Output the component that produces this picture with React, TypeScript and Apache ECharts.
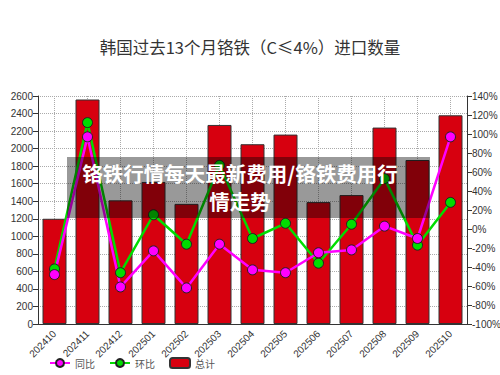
import React, { useEffect, useRef } from "react";
import * as echarts from "echarts";

const months = ["202410","202411","202412","202501","202502","202503","202504","202505","202506","202507","202508","202509","202510"];
const totals = [1200, 2560, 1410, 1620, 1370, 2270, 2050, 2160, 1390, 1470, 2240, 1870, 2380];
const yoy = [-48, 97, -61, -23, -62, -16, -43, -46, -25, -22, 3, -10, 97];
const mom = [-42, 112, -46, 15, -16, 67, -10, 6, -36, 5, 53, -17, 28];
const title = "韩国过去13个月铬铁（C≤4%）进口数量";
const watermark1 = "铬铁行情每天最新费用/铬铁费用行";
const watermark2 = "情走势";

export default function App() {
  const ref = useRef<HTMLDivElement>(null);
  useEffect(() => {
    document.body.style.margin = "0";
    if (!ref.current) return;
    const chart = echarts.init(ref.current, undefined, { renderer: "svg" });
    const font = "'Liberation Sans', Arial, sans-serif";
    const axisLabel = { color: "#333", fontSize: 10, fontFamily: font };
    const wmStyle = (text: string) => ({
      text,
      fill: "#fff",
      font: "bold 20.5px 'Noto Sans CJK SC', sans-serif",
      textAlign: "center",
      textVerticalAlign: "middle",
    });
    chart.setOption({
      animation: false,
      backgroundColor: "#fff",
      title: {
        text: title,
        left: "center",
        top: 34,
        textStyle: { fontSize: 16.5, fontWeight: "normal", color: "#333", fontFamily: "'Noto Sans CJK SC', sans-serif" },
      },
      grid: { left: 38, right: 33, top: 96, bottom: 51, outerBoundsMode: "none" },
      legend: {
        left: 44,
        bottom: 1,
        itemWidth: 20,
        itemHeight: 10,
        itemGap: 14,
        textStyle: { color: "#555", fontSize: 10, fontFamily: "'Noto Sans CJK SC', sans-serif" },
        data: ["同比", "环比", "总计"],
      },
      xAxis: {
        type: "category",
        data: months,
        axisLine: { lineStyle: { color: "#333" } },
        axisTick: { alignWithLabel: true, lineStyle: { color: "#333" } },
        axisLabel: { ...axisLabel, rotate: 45, interval: 0, margin: 8 },
        splitLine: { show: true, alignWithLabel: true, lineStyle: { color: "#aaa", type: "dotted" } },
      },
      yAxis: [
        {
          type: "value",
          min: 0,
          max: 2600,
          interval: 200,
          axisLine: { show: true, lineStyle: { color: "#333" } },
          axisTick: { show: true, lineStyle: { color: "#333" } },
          axisLabel: { ...axisLabel, margin: 5, formatter: (v: number) => String(v) },
          splitLine: { lineStyle: { color: "#aaa", type: "dotted" } },
        },
        {
          type: "value",
          min: -100,
          max: 140,
          interval: 20,
          axisLine: { show: true, lineStyle: { color: "#333" } },
          axisTick: { show: true, lineStyle: { color: "#333" } },
          axisLabel: { ...axisLabel, margin: 5, formatter: (v: number) => v + "%" },
          splitLine: { show: false },
        },
      ],
      series: [
        {
          name: "总计",
          type: "bar",
          data: totals,
          barWidth: 24,
          itemStyle: { color: "#d7000f", borderColor: "#333", borderWidth: 1 },
        },
        {
          name: "环比",
          type: "line",
          yAxisIndex: 1,
          data: mom,
          symbol: "circle",
          symbolSize: 10,
          lineStyle: { color: "#00dd00", width: 2.5 },
          itemStyle: { color: "#00dd00", borderColor: "#222", borderWidth: 1 },
        },
        {
          name: "同比",
          type: "line",
          yAxisIndex: 1,
          data: yoy,
          symbol: "circle",
          symbolSize: 10,
          lineStyle: { color: "#ff00ff", width: 2.5 },
          itemStyle: { color: "#ff00ff", borderColor: "#222", borderWidth: 1 },
        },
      ],
      graphic: [
        {
          type: "rect",
          shape: { x: 67, y: 157, width: 363, height: 61 },
          style: { fill: "rgba(0,0,0,0.4)" },
          z: 100,
        },
        { type: "text", x: 240, y: 173, style: wmStyle(watermark1), z: 101 },
        { type: "text", x: 240, y: 200.5, style: wmStyle(watermark2), z: 101 },
      ],
    });
    return () => chart.dispose();
  }, []);
  return <div ref={ref} style={{ width: 500, height: 375 }} />;
}
